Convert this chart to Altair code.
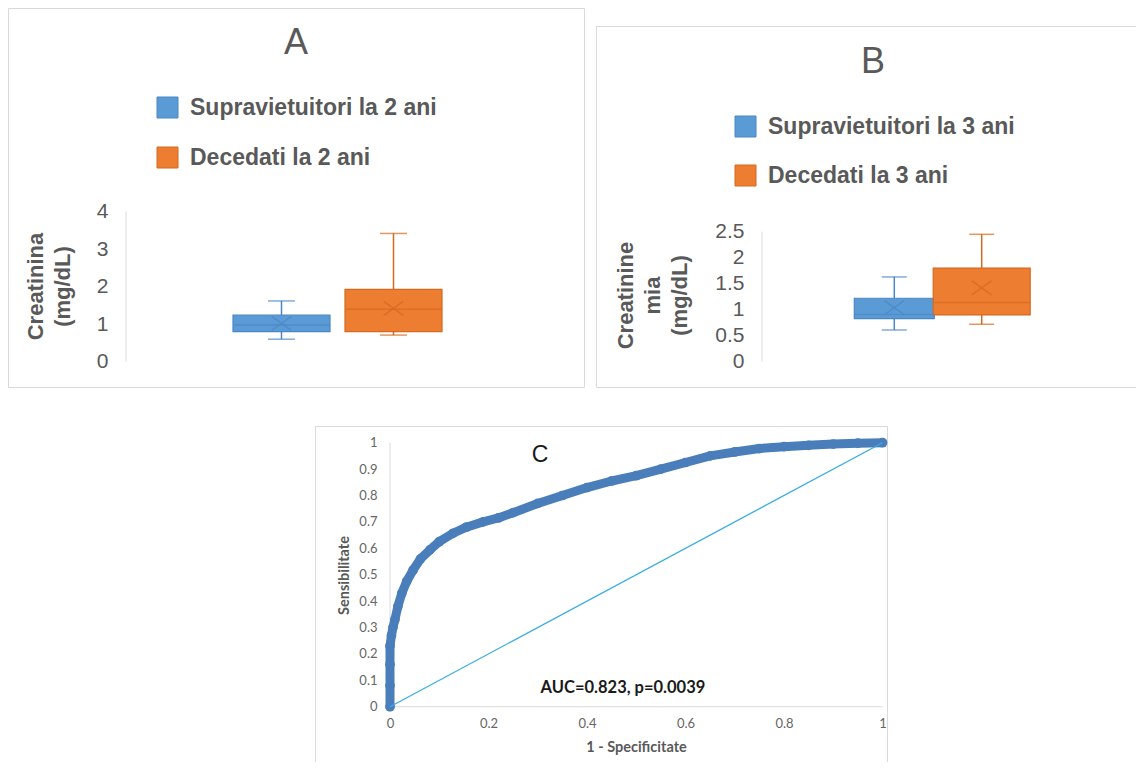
import altair as alt
import pandas as pd

# ---------------- data ----------------
# Panel A (2 years)
series_a = ["Supravietuitori la 2 ani", "Decedati la 2 ani"]
min_a = [0.60, 0.71]
q1_a = [0.80, 0.80]
median_a = [0.98, 1.40]
q3_a = [1.24, 1.93]
max_a = [1.62, 3.42]
mean_a = [1.02, 1.42]
yticks_a = [0, 1, 2, 3, 4]

# Panel B (3 years)
series_b = ["Supravietuitori la 3 ani", "Decedati la 3 ani"]
min_b = [0.61, 0.72]
q1_b = [0.83, 0.90]
median_b = [0.91, 1.14]
q3_b = [1.22, 1.80]
max_b = [1.63, 2.45]
mean_b = [1.04, 1.42]
yticks_b = [0, 0.5, 1, 1.5, 2, 2.5]

# Panel C (ROC curve)
roc_fpr = [0, 0, 0, 0, 0.003, 0.006, 0.01, 0.016, 0.024, 0.034, 0.047, 0.062, 0.081, 0.1,
           0.128, 0.155, 0.189, 0.22, 0.25, 0.3, 0.35, 0.4, 0.45, 0.5, 0.55, 0.6,
           0.65, 0.7, 0.75, 0.8, 0.85, 0.9, 0.95, 1.0]
roc_tpr = [0, 0.08, 0.16, 0.23, 0.27, 0.30, 0.33, 0.38, 0.43, 0.475, 0.518, 0.56, 0.594, 0.625,
           0.657, 0.68, 0.70, 0.715, 0.735, 0.77, 0.80, 0.83, 0.855, 0.875, 0.90, 0.925,
           0.95, 0.965, 0.978, 0.985, 0.99, 0.995, 0.998, 1.0]
diag_fpr = [0, 1]
diag_tpr = [0, 1]
xticks_c = [0, 0.2, 0.4, 0.6, 0.8, 1]
yticks_c = [0, 0.1, 0.2, 0.3, 0.4, 0.5, 0.6, 0.7, 0.8, 0.9, 1]
auc_label = "AUC=0.823, p=0.0039"
auc_pos = [0.473, 0.07]

# ---------------- styling ----------------
BLUE, ORANGE = "#5B9BD5", "#ED7D31"
BLUE_D, ORANGE_D = "#4A87C6", "#D5691F"
LINE_GREY = "#D9D9D9"
TXT = "#595959"
FONT_AB = "Liberation Sans, Arial, sans-serif"
FONT_C = "Lato, Carlito, sans-serif"
XPATH = "M-1.4,-1L1.4,1M1.4,-1L-1.4,1"
LABEL_EXPR = "format(datum.value, '~g')"

one = pd.DataFrame({"k": [0]})


def band_params(W, bw):
    po = (W / bw - 1) / 2
    pi = 0.0
    if po > 1:
        po = 1.0
        pi = (W - 3 * bw) / (W - bw)
    return pi, po


def box_panel(series, mins, q1s, meds, q3s, maxs, means, yticks, *, W, H, y0_px, ppu,
              axis_px, band_start, band_w, off_pad, box_w, cap_w, title_lines, title_x,
              title_y, legend_x, legend_y, row_pad, letter, letter_x, letter_y,
              frame_x2, frame_y):
    df = pd.DataFrame({"cat": ["g"] * len(series), "series": series, "lo": mins, "q1": q1s,
                       "med": meds, "q3": q3s, "hi": maxs, "mean": means})
    ydom = [-(H - y0_px) / ppu, y0_px / ppu]
    pi, po = band_params(W, band_w)
    al = band_start / (W - band_w)
    xenc = alt.X("cat:N", axis=None,
                 scale=alt.Scale(paddingInner=pi, paddingOuter=po, align=al))
    xoff = alt.XOffset("series:N", sort=series,
                       scale=alt.Scale(domain=series, paddingInner=off_pad, paddingOuter=0))
    yscale = alt.Scale(domain=ydom, nice=False, zero=False)
    yaxis = alt.Axis(values=yticks, offset=-axis_px, domain=False, ticks=False, grid=False,
                     labelFont=FONT_AB, labelFontSize=21, labelColor=TXT, labelPadding=18,
                     labelOverlap=False, labelFlush=False, labelExpr=LABEL_EXPR,
                     title=title_lines, titleFont=FONT_AB, titleFontSize=22,
                     titleFontWeight="bold", titleColor=TXT, titleAngle=270,
                     titleAlign="center", titleBaseline="bottom", titleLineHeight=27,
                     titleX=title_x, titleY=title_y)

    def Y(field):
        return alt.Y(f"{field}:Q", scale=yscale, axis=yaxis)

    leg = alt.Legend(title=None, orient="none", legendX=legend_x, legendY=legend_y,
                     direction="vertical", symbolType="square", symbolSize=441,
                     symbolStrokeWidth=1, labelFont=FONT_AB, labelFontSize=23,
                     labelFontWeight="bold", labelColor=TXT, labelOffset=11, labelLimit=600,
                     rowPadding=row_pad, padding=0)
    color = alt.Color("series:N", sort=series,
                      scale=alt.Scale(domain=series, range=[BLUE, ORANGE]), legend=leg)
    stroke = alt.Stroke("series:N", sort=series,
                        scale=alt.Scale(domain=series, range=[BLUE_D, ORANGE_D]), legend=leg)
    fill_d = alt.Fill("series:N", sort=series,
                      scale=alt.Scale(domain=series, range=[BLUE_D, ORANGE_D]), legend=None)

    frame = alt.Chart(one).mark_rect(filled=False, stroke=LINE_GREY, strokeWidth=1,
                                     clip=True).encode(
        x=alt.value(0.5), x2=alt.value(frame_x2), y=alt.value(frame_y),
        y2=alt.value(H - 0.5))

    size_enc = alt.condition(f"datum.series == '{series[0]}'", alt.value(box_w[0]),
                             alt.value(box_w[1]))
    base = alt.Chart(df).encode(x=xenc, xOffset=xoff)
    bars = base.mark_bar(strokeWidth=1.2).encode(
        y=Y("q1"), y2="q3:Q", color=color, stroke=stroke, size=size_enc)
    wlo = base.mark_rule(strokeWidth=1.5).encode(y=Y("lo"), y2="q1:Q", stroke=stroke)
    whi = base.mark_rule(strokeWidth=1.5).encode(y=Y("q3"), y2="hi:Q", stroke=stroke)
    cap_lo = base.mark_tick(size=cap_w, thickness=1.5).encode(y=Y("lo"), fill=fill_d)
    cap_hi = base.mark_tick(size=cap_w, thickness=1.5).encode(y=Y("hi"), fill=fill_d)
    med = base.mark_tick(thickness=1.5).encode(y=Y("med"), fill=fill_d, size=size_enc)
    mean = base.mark_point(shape=XPATH, size=196, filled=False, strokeWidth=1.5).encode(
        y=Y("mean"), stroke=stroke)

    axis_line = alt.Chart(one).mark_rule(color=LINE_GREY, strokeWidth=1).encode(
        x=alt.value(axis_px),
        y=alt.Y(datum=yticks[0], type="quantitative", scale=yscale, axis=yaxis),
        y2=alt.Y2(datum=yticks[-1]))

    letter_mark = alt.Chart(one).mark_text(font=FONT_AB, fontSize=36, color=TXT,
                                           align="center", baseline="middle").encode(
        x=alt.value(letter_x), y=alt.value(letter_y), text=alt.value(letter))

    return alt.layer(frame, axis_line, bars, wlo, whi, cap_lo, cap_hi, med, mean,
                     letter_mark).properties(width=W, height=H)


panel_a = box_panel(series_a, min_a, q1_a, median_a, q3_a, max_a, mean_a, yticks_a,
                    W=577, H=380, y0_px=353.7, ppu=37.5, axis_px=118,
                    band_start=225, band_w=209, off_pad=15 / 112, box_w=[97, 97], cap_w=27,
                    title_lines=["Creatinina", "(mg/dL)"], title_x=-79, title_y=278,
                    legend_x=148, legend_y=88, row_pad=25, letter="A",
                    letter_x=288, letter_y=35, frame_x2=576.5, frame_y=0.5)

panel_b = box_panel(series_b, min_b, q1_b, median_b, q3_b, max_b, mean_b, yticks_b,
                    W=540, H=380, y0_px=353.7, ppu=52, axis_px=166,
                    band_start=254.6, band_w=174.8, off_pad=0, box_w=[80, 97], cap_w=25,
                    title_lines=["Creatinine", "mia", "(mg/dL)"], title_x=-125, title_y=287,
                    legend_x=138, legend_y=107, row_pad=24, letter="B",
                    letter_x=277, letter_y=54, frame_x2=600, frame_y=18.5)

# ---------------- panel C ----------------
WC, HC = 880, 336
x0c, ppx = 382, 492.5
y0c, ppy = 280.7, 264
xs = alt.Scale(domain=[-x0c / ppx, (WC - x0c) / ppx], nice=False, zero=False)
ys = alt.Scale(domain=[-(HC - y0c) / ppy, y0c / ppy], nice=False, zero=False)
xaxis = alt.Axis(values=xticks_c, offset=-(HC - y0c), domain=False, ticks=False, grid=False,
                 labelFont=FONT_C, labelFontSize=13, labelColor="#666666", labelPadding=11,
                 labelOverlap=False, labelFlush=False, labelExpr=LABEL_EXPR,
                 title="1 - Specificitate", titleFont=FONT_C, titleFontSize=14.5,
                 titleFontWeight="bold", titleColor=TXT, titleAlign="center",
                 titleBaseline="alphabetic", titleX=628, titleY=45)
yaxis = alt.Axis(values=yticks_c, offset=-x0c, domain=False, ticks=False, grid=False,
                 labelFont=FONT_C, labelFontSize=13, labelColor="#666666", labelPadding=13,
                 labelOverlap=False, labelFlush=False, labelExpr=LABEL_EXPR,
                 title="Sensibilitate", titleFont=FONT_C, titleFontSize=14.5,
                 titleFontWeight="bold", titleColor=TXT, titleAngle=270, titleAlign="center",
                 titleBaseline="alphabetic", titleX=-42, titleY=149)

roc = pd.DataFrame({"fpr": roc_fpr, "tpr": roc_tpr, "i": list(range(len(roc_fpr)))})
diag = pd.DataFrame({"fpr": diag_fpr, "tpr": diag_tpr})

XC = alt.X("fpr:Q", scale=xs, axis=xaxis)
YC = alt.Y("tpr:Q", scale=ys, axis=yaxis)

frame_c = alt.Chart(one).mark_rect(filled=False, stroke=LINE_GREY, strokeWidth=1,
                                   clip=True).encode(
    x=alt.value(307.5), x2=alt.value(WC - 0.5), y=alt.value(0.5), y2=alt.value(HC + 40))
xline = alt.Chart(one).mark_rule(color=LINE_GREY, strokeWidth=1).encode(
    x=alt.X(datum=xticks_c[0], type="quantitative", scale=xs, axis=xaxis),
    x2=alt.X2(datum=xticks_c[-1]),
    y=alt.Y(datum=yticks_c[0], type="quantitative", scale=ys, axis=yaxis))
yline = alt.Chart(one).mark_rule(color=LINE_GREY, strokeWidth=1).encode(
    x=alt.X(datum=xticks_c[0], type="quantitative", scale=xs, axis=xaxis),
    y=alt.Y(datum=yticks_c[0], type="quantitative", scale=ys, axis=yaxis),
    y2=alt.Y2(datum=yticks_c[-1]))
roc_line = alt.Chart(roc).mark_line(color="#4A7EBB", strokeWidth=9, strokeCap="round",
                                    strokeJoin="round").encode(x=XC, y=YC, order="i:Q")
roc_pts = alt.Chart(roc).mark_circle(color="#4A7EBB", size=95, opacity=1).encode(x=XC, y=YC)
diag_line = alt.Chart(diag).mark_line(color="#38ADE3", strokeWidth=1.3).encode(x=XC, y=YC)
letter_c = alt.Chart(one).mark_text(font=FONT_AB, fontSize=23, color="#1a1a1a",
                                    align="center", baseline="middle").encode(
    x=alt.value(532), y=alt.value(29), text=alt.value("C"))
auc = alt.Chart(one).mark_text(font=FONT_C, fontSize=16.5, fontWeight="bold",
                               color="#1a1a1a", align="center", baseline="middle").encode(
    x=alt.X(datum=auc_pos[0], type="quantitative", scale=xs, axis=xaxis),
    y=alt.Y(datum=auc_pos[1], type="quantitative", scale=ys, axis=yaxis),
    text=alt.value(auc_label))

panel_c = alt.layer(frame_c, xline, yline, roc_line, roc_pts, diag_line, letter_c,
                    auc).properties(width=WC, height=HC)

top = alt.hconcat(panel_a, panel_b, spacing=11).resolve_scale(
    x="independent", y="independent", xOffset="independent", color="independent",
    stroke="independent", fill="independent", size="independent").resolve_legend(
    color="independent", stroke="independent", fill="independent")
chart = alt.vconcat(top, panel_c, spacing=38).resolve_scale(
    x="independent", y="independent").properties(padding=0).configure_view(strokeWidth=0)

chart.save("out.html", embed_options={"renderer": "svg", "actions": False})
